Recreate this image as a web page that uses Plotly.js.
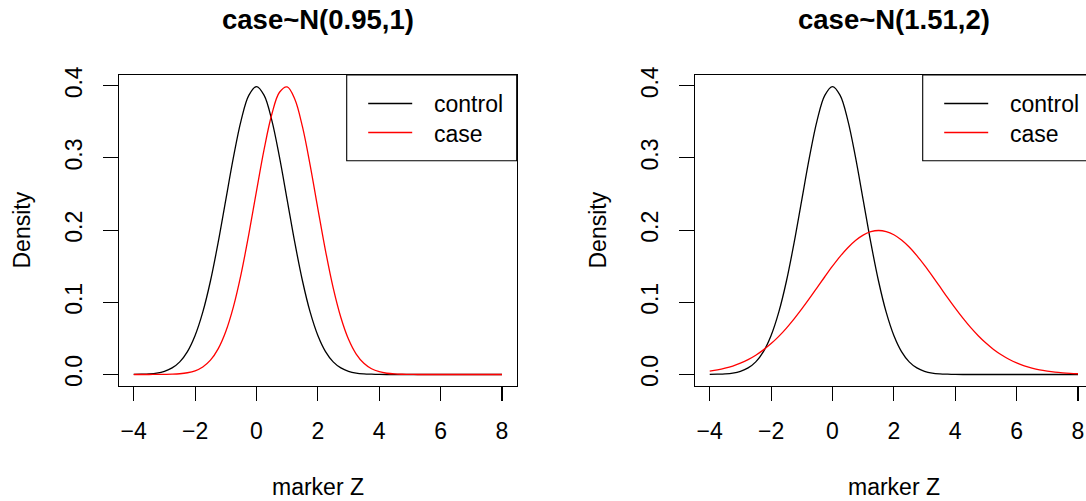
<!DOCTYPE html>
<html>
<head>
<meta charset="utf-8">
<script src="https://cdn.plot.ly/plotly-3.0.1.min.js"></script>
<style>
  html, body { margin: 0; padding: 0; overflow: hidden; background: #ffffff; }
  #chart { width: 1120px; height: 501px; }
</style>
</head>
<body>
<div id="chart"></div>
<script>
// ---- data ----
const markerZ = [-4, -3.75, -3.5, -3.25, -3, -2.75, -2.5, -2.25, -2, -1.75, -1.5, -1.25, -1, -0.75, -0.5, -0.25,
  0, 0.25, 0.5, 0.75, 1, 1.25, 1.5, 1.75, 2, 2.25, 2.5, 2.75, 3, 3.25, 3.5, 3.75,
  4, 4.25, 4.5, 4.75, 5, 5.25, 5.5, 5.75, 6, 6.25, 6.5, 6.75, 7, 7.25, 7.5, 7.75, 8];

const controlDensity = [0.0001, 0.0004, 0.0009, 0.0020, 0.0044, 0.0091, 0.0175, 0.0317, 0.0540, 0.0863, 0.1295, 0.1826, 0.2420, 0.3011, 0.3521, 0.3867,
  0.3989, 0.3867, 0.3521, 0.3011, 0.2420, 0.1826, 0.1295, 0.0863, 0.0540, 0.0317, 0.0175, 0.0091, 0.0044, 0.0020, 0.0009, 0.0004,
  0.0001, 0, 0, 0, 0, 0, 0, 0, 0, 0, 0, 0, 0, 0, 0, 0, 0];

const caseDensityA = [0, 0, 0, 0.0001, 0.0002, 0.0004, 0.0010, 0.0024, 0.0051, 0.0104, 0.0198, 0.0355, 0.0596, 0.0940, 0.1394, 0.1942,
  0.2541, 0.3123, 0.3605, 0.3910, 0.3984, 0.3814, 0.3429, 0.2897, 0.2299, 0.1714, 0.1200, 0.0790, 0.0488, 0.0283, 0.0155, 0.0079,
  0.0038, 0.0017, 0.0007, 0.0003, 0.0001, 0, 0, 0, 0, 0, 0, 0, 0, 0, 0, 0, 0];

const caseDensityB = [0.0045, 0.0063, 0.0087, 0.0117, 0.0157, 0.0206, 0.0267, 0.0341, 0.0428, 0.0528, 0.0643, 0.0770, 0.0908, 0.1053, 0.1204, 0.1354,
  0.1500, 0.1636, 0.1756, 0.1856, 0.1931, 0.1978, 0.1995, 0.1980, 0.1936, 0.1863, 0.1765, 0.1646, 0.1511, 0.1366, 0.1216, 0.1065,
  0.0919, 0.0780, 0.0652, 0.0537, 0.0435, 0.0347, 0.0273, 0.0211, 0.0160, 0.0120, 0.0089, 0.0064, 0.0046, 0.0032, 0.0022, 0.0015, 0.0010];

const panelTitles = ['case~N(0.95,1)', 'case~N(1.51,2)'];
const legendLabels = ['control', 'case'];
const seriesColors = ['#000000', '#ff0000'];
const xTitle = 'marker Z';
const yTitle = 'Density';

// ---- layout helpers (pixel geometry) ----
const W = 1120, H = 501;
const px = v => v / W;
const py = v => 1 - v / H;
const FONT = 'Liberation Sans, Arial, Helvetica, sans-serif';
const panels = [
  { left: 119, right: 516.7 },
  { left: 695, right: 1092.7 }
];
const plotTop = 75, plotBottom = 386;

function mkLine(x, y, color, xa, ya, name) {
  return {
    type: 'scatter', mode: 'lines', x: x, y: y, name: name,
    xaxis: xa, yaxis: ya, showlegend: false,
    line: { color: color, width: 1.3, shape: 'spline', smoothing: 1 },
    hoverinfo: 'skip'
  };
}

const traces = [
  mkLine(markerZ, controlDensity, seriesColors[0], 'x', 'y', legendLabels[0]),
  mkLine(markerZ, caseDensityA, seriesColors[1], 'x', 'y', legendLabels[1]),
  mkLine(markerZ, controlDensity, seriesColors[0], 'x2', 'y2', legendLabels[0]),
  mkLine(markerZ, caseDensityB, seriesColors[1], 'x2', 'y2', legendLabels[1])
];

function xAxis(p, anchor) {
  return {
    domain: [px(p.left), px(p.right)], anchor: anchor,
    range: [-4.48, 8.48], tick0: 0, dtick: 2,
    ticks: 'outside', ticklen: 14, tickwidth: 1.1, tickcolor: '#000',
    showline: true, mirror: true, linecolor: '#000', linewidth: 1.1,
    showgrid: false, zeroline: false,
    tickfont: { family: FONT, size: 23, color: '#000' },
    ticklabelstandoff: 10, automargin: false, fixedrange: true
  };
}
function yAxis(anchor) {
  return {
    domain: [py(plotBottom), py(plotTop)], anchor: anchor,
    range: [-0.01596, 0.4149], tick0: 0, dtick: 0.1, tickformat: '.1f',
    tickangle: -90,
    ticks: 'outside', ticklen: 15, tickwidth: 1.1, tickcolor: '#000',
    showline: true, mirror: true, linecolor: '#000', linewidth: 1.1,
    showgrid: false, zeroline: false,
    tickfont: { family: FONT, size: 23, color: '#000' },
    ticklabelstandoff: 12, automargin: false, fixedrange: true
  };
}

const shapes = [];
const annotations = [];
panels.forEach((p, i) => {
  const cx = (p.left + p.right) / 2;
  // main title
  annotations.push({ xref: 'paper', yref: 'paper', x: px(cx), y: py(19), xanchor: 'center', yanchor: 'middle',
    text: '<b>' + panelTitles[i] + '</b>', showarrow: false, font: { family: FONT, size: 27.5, color: '#000' } });
  // x title
  annotations.push({ xref: 'paper', yref: 'paper', x: px(cx), y: py(487), xanchor: 'center', yanchor: 'middle',
    text: xTitle, showarrow: false, font: { family: FONT, size: 23, color: '#000' } });
  // y title
  annotations.push({ xref: 'paper', yref: 'paper', x: px(p.left - 98), y: py((plotTop + plotBottom) / 2),
    xanchor: 'center', yanchor: 'middle', textangle: -90,
    text: yTitle, showarrow: false, font: { family: FONT, size: 23, color: '#000' } });
  // legend box
  const lgLeft = p.right - 170, lgBottom = 160.7;
  shapes.push({ type: 'rect', xref: 'paper', yref: 'paper', x0: px(lgLeft), x1: px(p.right), y0: py(lgBottom), y1: py(plotTop),
    line: { color: '#000', width: 1.1 }, fillcolor: 'rgba(255,255,255,1)' });
  const rows = [103.5, 132.5];
  rows.forEach((ry, k) => {
    shapes.push({ type: 'line', xref: 'paper', yref: 'paper', x0: px(lgLeft + 21.5), x1: px(lgLeft + 65.5), y0: py(ry), y1: py(ry),
      line: { color: seriesColors[k], width: 1.3 } });
    annotations.push({ xref: 'paper', yref: 'paper', x: px(lgLeft + 85), y: py(ry + 1), xanchor: 'left', yanchor: 'middle',
      text: legendLabels[k], showarrow: false, font: { family: FONT, size: 23, color: '#000' } });
  });
});

const layout = {
  width: W, height: H,
  margin: { l: 0, r: 0, t: 0, b: 0, pad: 0 },
  paper_bgcolor: '#ffffff', plot_bgcolor: 'rgba(0,0,0,0)',
  showlegend: false,
  font: { family: FONT, size: 23, color: '#000' },
  xaxis: xAxis(panels[0], 'y'),
  yaxis: yAxis('x'),
  xaxis2: xAxis(panels[1], 'y2'),
  yaxis2: yAxis('x2'),
  shapes: shapes,
  annotations: annotations
};

Plotly.newPlot('chart', traces, layout, { staticPlot: true, displayModeBar: false });
</script>
</body>
</html>
